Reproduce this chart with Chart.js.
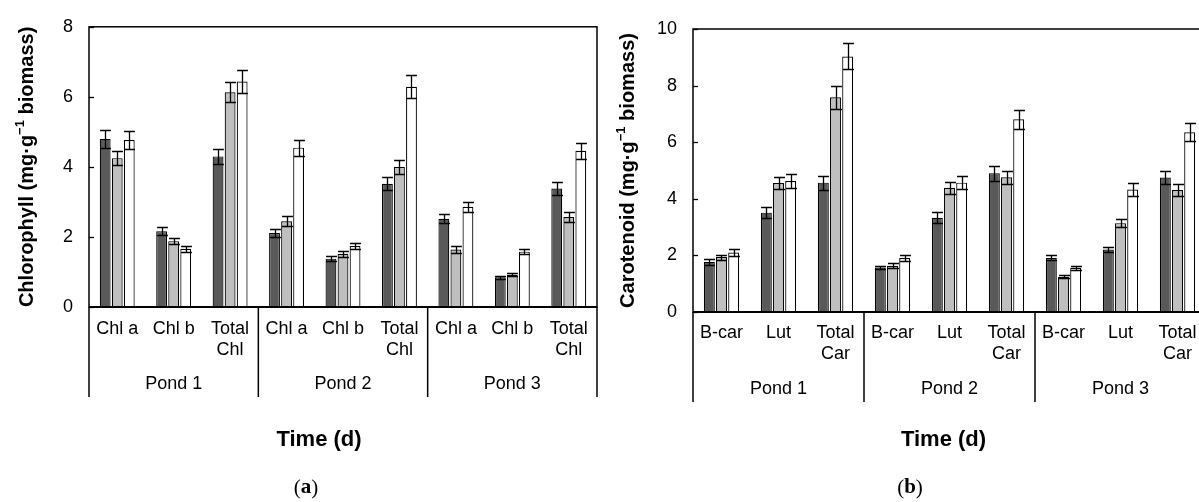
<!DOCTYPE html>
<html>
<head>
<meta charset="utf-8">
<script src="https://cdn.jsdelivr.net/npm/chart.js@4.4.1/dist/chart.umd.min.js"></script>
<style>
  html, body { margin: 0; padding: 0; background: #fff; overflow: hidden; }
  #wrap { position: relative; width: 1199px; height: 502px; overflow: hidden; }
  canvas { position: absolute; top: 0; }
  #chlChart { left: 0; }
  #carChart { left: 600px; }
</style>
</head>
<body>
<div id="wrap">
  <canvas id="chlChart" width="600" height="502"></canvas>
  <canvas id="carChart" width="620" height="502"></canvas>
</div>
<script>
// Etiquetas y valores
const ponds = ['Pond 1', 'Pond 2', 'Pond 3'];

const chlCategories = ['Chl a', 'Chl b', ['Total', 'Chl'], 'Chl a', 'Chl b', ['Total', 'Chl'], 'Chl a', 'Chl b', ['Total', 'Chl']];
const chlYTicks = [0, 2, 4, 6, 8];
const chlDark  = [4.80, 2.16, 4.30, 2.11, 1.38, 3.52, 2.52, 0.85, 3.38];
const chlLight = [4.25, 1.88, 6.13, 2.45, 1.52, 4.00, 1.64, 0.92, 2.57];
const chlWhite = [4.77, 1.66, 6.44, 4.55, 1.74, 6.29, 2.86, 1.58, 4.46];
const chlDarkErr  = [0.25, 0.11, 0.22, 0.11, 0.07, 0.18, 0.13, 0.04, 0.18];
const chlLightErr = [0.20, 0.09, 0.29, 0.14, 0.08, 0.21, 0.09, 0.04, 0.13];
const chlWhiteErr = [0.25, 0.09, 0.33, 0.23, 0.09, 0.33, 0.15, 0.08, 0.23];

const carCategories = ['B-car', 'Lut', ['Total', 'Car'], 'B-car', 'Lut', ['Total', 'Car'], 'B-car', 'Lut', ['Total', 'Car']];
const carYTicks = [0, 2, 4, 6, 8, 10];
const carDark  = [1.77, 3.51, 4.57, 1.57, 3.33, 4.90, 1.91, 2.21, 4.75];
const carLight = [1.94, 4.56, 7.59, 1.63, 4.39, 4.76, 1.24, 3.14, 4.31];
const carWhite = [2.10, 4.63, 9.03, 1.91, 4.57, 6.81, 1.56, 4.33, 6.35];
const carDarkErr  = [0.10, 0.19, 0.25, 0.06, 0.19, 0.26, 0.09, 0.09, 0.23];
const carLightErr = [0.09, 0.22, 0.40, 0.09, 0.21, 0.23, 0.05, 0.15, 0.22];
const carWhiteErr = [0.13, 0.25, 0.46, 0.11, 0.22, 0.34, 0.08, 0.23, 0.32];

const SANS = 'Arial, "Liberation Sans", sans-serif';
const SERIF = '"Liberation Serif", "Times New Roman", serif';

// Barras de error, caja del área, separadores y textos
const decorPlugin = {
  id: 'decor',
  afterDatasetsDraw(chart, args, opts) {
    const ctx = chart.ctx;
    const y = chart.scales.y;
    ctx.save();
    ctx.strokeStyle = '#000';
    ctx.lineWidth = 1.3;
    chart.data.datasets.forEach((ds, i) => {
      const meta = chart.getDatasetMeta(i);
      const errs = opts.errors[i];
      meta.data.forEach((bar, j) => {
        const v = ds.data[j], e = errs[j];
        const top = Math.round(y.getPixelForValue(v + e)) + 0.5;
        const bot = Math.round(y.getPixelForValue(v - e)) + 0.5;
        const half = bar.width / 2;
        const x = Math.round(bar.x) + 0.5;
        ctx.beginPath();
        ctx.moveTo(x, top); ctx.lineTo(x, bot);
        ctx.moveTo(x - half, top); ctx.lineTo(x + half, top);
        ctx.moveTo(x - half, bot); ctx.lineTo(x + half, bot);
        ctx.stroke();
      });
    });
    ctx.restore();
  },
  afterDraw(chart, args, opts) {
    const ctx = chart.ctx;
    const a = chart.chartArea;
    const y = chart.scales.y;
    ctx.save();
    ctx.strokeStyle = '#000';

    // marco del área de trazado
    ctx.lineWidth = 1.5;
    ctx.strokeRect(a.left, a.top, a.right - a.left, a.bottom - a.top);
    ctx.lineWidth = 2;
    ctx.beginPath();
    ctx.moveTo(a.left, a.bottom); ctx.lineTo(a.right, a.bottom);
    ctx.stroke();

    // marcas interiores del eje y
    ctx.lineWidth = 1.3;
    opts.yTicks.forEach(t => {
      const py = Math.round(y.getPixelForValue(t)) + 0.5;
      ctx.beginPath();
      ctx.moveTo(a.left, py); ctx.lineTo(a.left + 5, py);
      ctx.stroke();
    });

    // separadores de estanques
    const pw = (a.right - a.left) / opts.ponds.length;
    ctx.lineWidth = 1.5;
    for (let k = 0; k <= opts.ponds.length; k++) {
      const px = a.left + k * pw;
      ctx.beginPath();
      ctx.moveTo(px, a.bottom); ctx.lineTo(px, opts.sepBottom);
      ctx.stroke();
    }
    ctx.fillStyle = '#000';
    ctx.font = '18px ' + SANS;
    ctx.textAlign = 'center';
    ctx.textBaseline = 'middle';
    opts.ponds.forEach((p, k) => ctx.fillText(p, a.left + (k + 0.5) * pw, opts.pondY));

    // título del eje y con superíndice
    ctx.save();
    ctx.translate(opts.yTitleX, (a.top + a.bottom) / 2);
    ctx.rotate(-Math.PI / 2);
    const bigF = 'bold 20px ' + SANS, supF = 'bold 13px ' + SANS;
    ctx.font = bigF; const w1 = ctx.measureText(opts.yTitle[0]).width;
    const w3 = ctx.measureText(opts.yTitle[2]).width;
    ctx.font = supF; const w2 = ctx.measureText(opts.yTitle[1]).width;
    let sx = -(w1 + w2 + w3) / 2;
    ctx.textAlign = 'left';
    ctx.font = bigF; ctx.fillText(opts.yTitle[0], sx, 0); sx += w1;
    ctx.font = supF; ctx.fillText(opts.yTitle[1], sx, -7); sx += w2;
    ctx.font = bigF; ctx.fillText(opts.yTitle[2], sx, 0);
    ctx.restore();

    // título del eje x
    ctx.font = 'bold 22px ' + SANS;
    ctx.textAlign = 'center';
    ctx.fillText('Time (d)', opts.xTitleX, 440);

    // rótulo (a)/(b)
    const parts = [['(', '21px '], [opts.caption, 'bold 21px '], [')', '21px ']];
    let tw = 0;
    parts.forEach(p => { ctx.font = p[1] + SERIF; tw += ctx.measureText(p[0]).width; });
    let cx = opts.captionX - tw / 2;
    ctx.textAlign = 'left';
    parts.forEach(p => {
      ctx.font = p[1] + SERIF;
      ctx.fillText(p[0], cx, 488);
      cx += ctx.measureText(p[0]).width;
    });
    ctx.restore();
  }
};

function makeChart(id, cfg) {
  const ctx = document.getElementById(id).getContext('2d');
  return new Chart(ctx, {
    type: 'bar',
    data: {
      labels: cfg.labels,
      datasets: [
        { label: 'Series 1', data: cfg.series[0], backgroundColor: '#595959' },
        { label: 'Series 2', data: cfg.series[1], backgroundColor: '#bfbfbf' },
        { label: 'Series 3', data: cfg.series[2], backgroundColor: '#ffffff' }
      ].map(d => Object.assign(d, {
        borderColor: '#000', borderWidth: 1.2, borderSkipped: 'start',
        categoryPercentage: 0.64, barPercentage: 0.9
      }))
    },
    options: {
      responsive: false,
      devicePixelRatio: 1,
      animation: false,
      layout: { padding: cfg.padding },
      plugins: {
        legend: { display: false },
        tooltip: { enabled: false },
        decor: cfg.decor
      },
      scales: {
        x: {
          grid: { display: false, drawTicks: false },
          border: { display: false },
          ticks: {
            color: '#000', padding: cfg.xPad, maxRotation: 0, autoSkip: false,
            font: { family: SANS, size: 18, lineHeight: 1.15 }
          },
          afterFit: s => { s.height = cfg.xHeight; }
        },
        y: {
          min: 0, max: cfg.yTicks[cfg.yTicks.length - 1],
          grid: { display: false, drawTicks: false },
          border: { display: false },
          ticks: {
            stepSize: 2, color: '#000', padding: 16,
            font: { family: SANS, size: 18 }
          },
          afterFit: s => { s.width = cfg.yWidth; }
        }
      }
    },
    plugins: [decorPlugin]
  });
}

makeChart('chlChart', {
  labels: chlCategories,
  series: [chlDark, chlLight, chlWhite],
  yTicks: chlYTicks,
  padding: { top: 22, right: 3, left: 0, bottom: 0 },
  yWidth: 89, xHeight: 195, xPad: 12,
  decor: {
    errors: [chlDarkErr, chlLightErr, chlWhiteErr],
    yTicks: chlYTicks, ponds: ponds,
    sepBottom: 397, pondY: 384,
    yTitle: ['Chlorophyll (mg\u00B7g', '\u22121', ' biomass)'], yTitleX: 27,
    xTitleX: 319, caption: 'a', captionX: 306
  }
});

makeChart('carChart', {
  labels: carCategories,
  series: [carDark, carLight, carWhite],
  yTicks: carYTicks,
  padding: { top: 29, right: 14, left: 0, bottom: 0 },
  yWidth: 93, xHeight: 190, xPad: 11,
  decor: {
    errors: [carDarkErr, carLightErr, carWhiteErr],
    yTicks: carYTicks, ponds: ponds,
    sepBottom: 402, pondY: 389,
    yTitle: ['Carotenoid (mg\u00B7g', '\u22121', ' biomass)'], yTitleX: 28,
    xTitleX: 343.5, caption: 'b', captionX: 310
  }
});
</script>
</body>
</html>
